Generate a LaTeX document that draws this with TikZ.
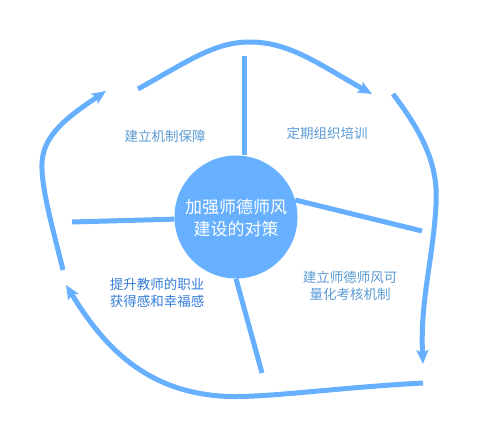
\documentclass[tikz,border=0pt]{standalone}
\usepackage{fontspec}
\newfontfamily\cjk{Noto Sans CJK SC}
\usetikzlibrary{arrows.meta}
\definecolor{lineblue}{RGB}{102,176,255}
\definecolor{txtblue}{RGB}{91,155,213}
\definecolor{txtdark}{RGB}{52,125,215}
\tikzset{
  flow/.style={draw=lineblue, line width=5pt, -{Stealth[length=14pt,width=12pt,inset=3pt]}},
  spoke/.style={draw=lineblue, line width=5pt},
  lbl/.style={font=\cjk\fontsize{13.5}{17}\selectfont, text=txtblue, align=center, inner sep=0pt},
}
\begin{document}
\begin{tikzpicture}[x=1pt,y=-1pt]
\useasboundingbox (0,0) rectangle (500,447);
\fill[white] (0,0) rectangle (500,447);
% spokes
\coordinate (sT) at (244,56);
\coordinate (sR) at (422,231);
\coordinate (sL) at (72,222);
\coordinate (sB) at (262,373);
\node[circle, fill=lineblue, minimum size=123pt, inner sep=0pt] (c) at (236,217) {};
\draw[spoke] (sT) -- (c.north -| sT);
\draw[spoke] (c.16) -- (sR);
\draw[spoke] (sL) -- (c.182);
\draw[spoke] (c.-90) -- (sB);
\node[font=\cjk\fontsize{17}{22}\selectfont, text=white, align=center] (ct) at (236,218) {加强师德师风\\建设的对策};
% outer arrows
\coordinate (a1) at (138,89);
\coordinate (a2) at (372,94);
\coordinate (b1) at (393,94);
\coordinate (b2) at (423,364);
\coordinate (d1) at (423,383);
\coordinate (d2) at (66,285);
\coordinate (e1) at (63,270);
\coordinate (e2) at (106,91);
\draw[flow] (a1) .. controls (190,60) and (215,42) .. (250,42) .. controls (290,42) and (320,65) .. (a2);
\draw[flow] (b1) .. controls (428,140) and (438,170) .. (436,205) .. controls (433,260) and (420,300) .. (b2);
\draw[flow] (d1) .. controls (330,388) and (260,399) .. (220,396) .. controls (140,390) and (100,340) .. (d2);
\draw[flow] (e1) .. controls (52,225) and (38,178) .. (43,155) .. controls (48,130) and (75,112) .. (e2);
% labels
\node[lbl] (l1) at (165,136) {建立机制保障};
\node[lbl] (l2) at (327,133) {定期组织培训};
\node[lbl, text=txtdark] (l3) at (157,293) {提升教师的职业\\获得感和幸福感};
\node[lbl] (l4) at (350,286) {建立师德师风可\\量化考核机制};
\end{tikzpicture}
\end{document}
